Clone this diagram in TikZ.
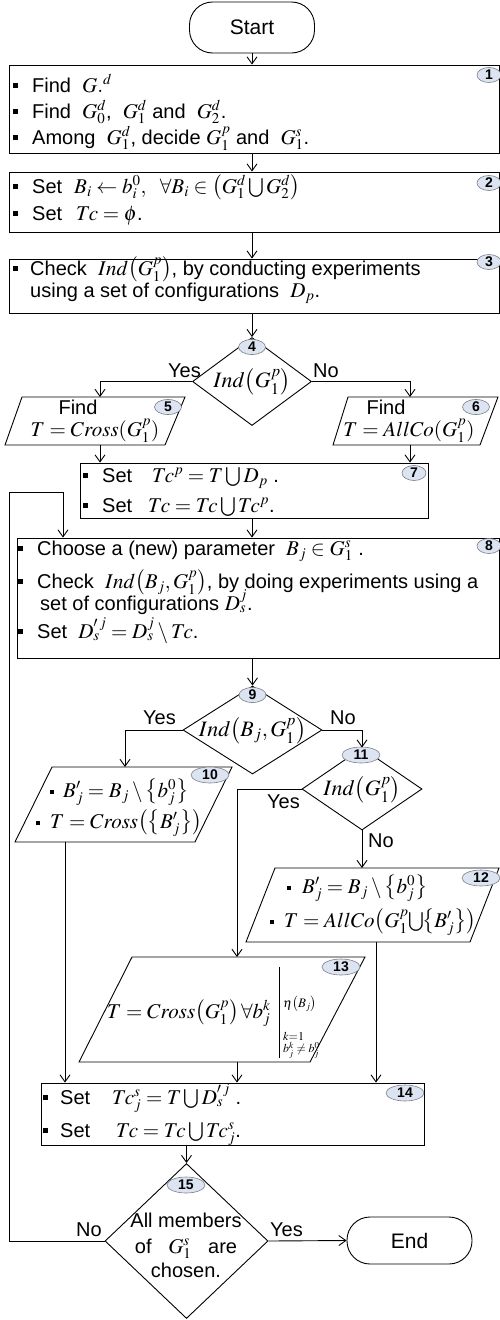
\documentclass[tikz,border=0pt]{standalone}
\usepackage{mathptmx}
\usepackage[no-math]{fontspec}
\setmainfont{Liberation Sans}
\usetikzlibrary{shapes.geometric,arrows.meta}
\DeclareMathSizes{20}{21}{15}{11}
\definecolor{badgefill}{HTML}{DCE4F2}
\definecolor{badgeline}{HTML}{7A7F88}
\newcommand\bsq{\rule[4pt]{5pt}{5pt}}
\newcommand\bsm{\rule[3pt]{4pt}{4pt}}
\newcommand\Tcc{T\mkern-1.5mu c}
\begin{document}
\begin{tikzpicture}[x=1pt,y=-1pt,
  ln/.style={line width=0.9pt},
  arr/.style={line width=0.9pt,-{Straight Barb[length=7pt,width=10pt]}},
  box/.style={draw,line width=0.9pt,rectangle,inner sep=0pt},
  term/.style={draw,line width=0.9pt,rectangle,rounded corners=23pt,inner sep=0pt,font=\fontsize{21}{25}\selectfont},
  dia/.style={draw,diamond,line width=0.9pt,inner sep=0pt},
  txt/.style={anchor=base west,inner sep=0pt,font=\fontsize{20}{24}\selectfont},
  ctxt/.style={anchor=base,inner sep=0pt,font=\fontsize{20}{24}\selectfont},
  dtxt/.style={anchor=center,inner sep=0pt,font=\fontsize{22}{26}\selectfont},
  lab/.style={anchor=base west,inner sep=0pt,font=\fontsize{20}{24}\selectfont},
  badge/.style={ellipse,draw=badgeline,fill=badgefill,line width=0.6pt,inner sep=0pt,minimum width=24pt,minimum height=15pt,font=\bfseries\fontsize{14}{14}\selectfont},
  badgew/.style={badge,minimum width=38pt,minimum height=16pt}
]
\useasboundingbox (0,0) rectangle (500,1320);

% Start
\node[term,minimum width=125pt,minimum height=51pt] (start) at (252,27.5) {Start};

% Box 1
\node[box,minimum width=490pt,minimum height=88pt] (b1) at (254,109) {};
\node[badge] (n1) at (489,75) {1};
\node[txt] (t1a) at (13,92) {\bsq\hspace{14pt}Find \ $G.^{d}$};
\node[txt] (t1b) at (13,118) {\bsq\hspace{14pt}Find \ $G_0^d$, \ $G_1^d$ and \ $G_2^d$.};
\node[txt] (t1c) at (13,144) {\bsq\hspace{14pt}Among \ $G_1^d$, decide $G_1^p$ and \ $G_1^s$.};

% Box 2
\node[box,minimum width=490pt,minimum height=60pt] (b2) at (254,202) {};
\node[badge] (n2) at (489,183) {2};
\node[txt] (t2a) at (13,193) {\bsq\hspace{14pt}Set\hspace{12pt}$B_i \leftarrow b_i^0,\ \ \forall B_i \in \bigl(G_1^d \bigcup G_2^d\bigr)$};
\node[txt] (t2b) at (13,220) {\bsq\hspace{14pt}Set\hspace{14pt}$\Tcc=\phi$.};

% Box 3
\node[box,minimum width=490pt,minimum height=54pt] (b3) at (254,286) {};
\node[badge] (n3) at (489,262) {3};
\node[txt] (t3a) at (13,275) {\bsq\hspace{12pt}Check \ $Ind\bigl(G_1^p\bigr)$, by conducting experiments};
\node[txt] (t3b) at (30,297) {using a set of configurations \ $D_p$.};

% Diamond 4
\node[dia,minimum width=119pt,minimum height=88pt] (d4) at (252,381.5) {};
\node[dtxt] (t4) at (252,382) {$Ind\bigl(G_1^p\bigr)$};
\node[badge,minimum width=27pt] (n4) at (252,347) {4};
\node[lab] (y4) at (168,377) {Yes};
\node[lab] (no4) at (313,377) {No};

% Box 5 (parallelogram)
\draw[ln] (22,397) -- (185,397) -- (165,445) -- (5,445) -- cycle;
\coordinate (p5t) at (100,397);
\coordinate (p5b) at (100,445);
\node[ctxt] (t5a) at (78,414) {Find};
\node[ctxt] (t5b) at (95,436) {$T = Cross(G_1^p)$};
\node[badge,minimum width=27pt] (n5) at (168,407) {5};

% Box 6 (parallelogram)
\draw[ln] (348,397) -- (498,397) -- (480,445) -- (333,445) -- cycle;
\coordinate (p6t) at (410,397);
\coordinate (p6b) at (410,445);
\node[ctxt] (t6a) at (386,414) {Find};
\node[ctxt] (t6b) at (409,436) {$T = AllCo(G_1^p)$};
\node[badge,minimum width=27pt] (n6) at (476,407) {6};

% Box 7
\node[box,minimum width=348pt,minimum height=55pt] (b7) at (254,490.5) {};
\node[badge] (n7) at (414,473) {7};
\node[txt] (t7a) at (83,482) {\bsq\hspace{14pt}Set\hspace{20pt}$\Tcc^p = T \bigcup D_p$ .};
\node[txt] (t7b) at (83,512) {\bsq\hspace{14pt}Set\hspace{16pt}$\Tcc = \Tcc \bigcup \Tcc^p$.};

% Box 8
\node[box,minimum width=482pt,minimum height=120pt] (b8) at (258,598) {};
\node[badge] (n8) at (489,546) {8};
\node[txt] (t8a) at (18,555) {\bsq\hspace{14pt}Choose a (new) parameter \ $B_j \in G_1^s$ .};
\node[txt] (t8b) at (18,588) {\bsq\hspace{14pt}Check \ $Ind\bigl(B_j, G_1^p\bigr)$, by doing experiments using a};
\node[txt] (t8c) at (40,610) {set of configurations $D_s^j$.};
\node[txt] (t8d) at (18,638) {\bsq\hspace{14pt}Set \ $D_s'^{\,j} = D_s^j \setminus \Tcc$.};

% Diamond 9
\node[dia,minimum width=139pt,minimum height=88pt] (d9) at (252.5,730) {};
\node[dtxt] (t9) at (252.5,731) {$Ind\bigl(B_j, G_1^p\bigr)$};
\node[badge,minimum width=27pt] (n9) at (252.5,695) {9};
\node[lab] (y9) at (143,724) {Yes};
\node[lab] (no9) at (330,724) {No};

% Diamond 11
\node[dia,minimum width=120pt,minimum height=82pt] (d11) at (362,789) {};
\node[dtxt] (t11) at (362,790) {$Ind\bigl(G_1^p\bigr)$};
\node[badgew] (n11) at (361,755) {11};
\node[lab] (y11) at (267,808) {Yes};
\node[lab] (no11) at (368,847) {No};

% Box 10 (parallelogram)
\draw[ln] (52,767) -- (232,767) -- (195,842) -- (15,842) -- cycle;
\coordinate (p10t) at (125,767);
\coordinate (p10b) at (65,842);
\node[badgew] (n10) at (210,775) {10};
\node[txt] (t10a) at (50,797) {\bsm\hspace{9pt}$B'_j = B_j \setminus \bigl\{b_j^0\bigr\}$};
\node[txt] (t10b) at (36,828) {\bsm\hspace{10pt}$T = Cross\bigl(\bigl\{B'_j\bigr\}\bigr)$};

% Box 12 (parallelogram)
\draw[ln] (275,868) -- (499,868) -- (470,942) -- (246,942) -- cycle;
\coordinate (p12t) at (362,868);
\coordinate (p12b) at (376,942);
\node[badgew] (n12) at (481,878) {12};
\node[txt] (t12a) at (287,893) {\bsm\hspace{11pt}$B'_j = B_j \setminus \bigl\{b_j^0\bigr\}$};
\node[txt] (t12b) at (270,927) {\bsm\hspace{10pt}$T = AllCo\bigl(G_1^p \mkern-2mu\bigcup\mkern-2mu \bigl\{B'_j\bigr\}\bigr)$};

% Box 13 (parallelogram)
\draw[ln] (132,957) -- (365,957) -- (310,1062) -- (79,1062) -- cycle;
\coordinate (p13t) at (237,957);
\coordinate (p13b) at (237,1062);
\node[badgew] (n13) at (341,967) {13};
\node[txt] (t13) at (107,1018) {$T = Cross\bigl(G_1^p\bigr)\,\forall b_j^k$};
\draw[line width=0.6pt] (279,967) -- (279,1058);
\node[anchor=west,inner sep=0pt,font=\fontsize{13}{15}\selectfont] (t13e) at (283,1004) {$\eta\bigl(B_j\bigr)$};
\node[anchor=west,inner sep=0pt,font=\fontsize{12}{14}\selectfont] (t13k) at (283,1036) {$k{=}1$};
\node[anchor=west,inner sep=0pt,font=\fontsize{12}{14}\selectfont] (t13b) at (283,1050) {$b_j^k \neq b_j^0$};

% Box 14
\node[box,minimum width=383pt,minimum height=62pt] (b14) at (232.5,1114) {};
\node[badgew] (n14) at (405,1093) {14};
\node[txt] (t14a) at (43,1104) {\bsq\hspace{12pt}Set\hspace{22pt}$\Tcc_j^s = T \bigcup D_s'^{\,j}$ .};
\node[txt] (t14b) at (43,1137) {\bsq\hspace{12pt}Set\hspace{26pt}$\Tcc = \Tcc \bigcup \Tcc_j^s$.};

% Diamond 15
\node[dia,minimum width=163pt,minimum height=155pt] (d15) at (186.5,1241) {};
\node[badgew] (n15) at (186,1185) {15};
\node[ctxt] (t15a) at (186,1227) {All members};
\node[ctxt] (t15b) at (186,1253) {of \ \ $G_1^s$ \ \ are};
\node[ctxt] (t15c) at (186,1277) {chosen.};
\node[lab] (no15) at (76,1236) {No};
\node[lab] (y15) at (270,1236) {Yes};

% End
\node[term,minimum width=125pt,minimum height=47pt] (end) at (409.5,1240.5) {End};

% Loop corners
\coordinate (lc) at (9,492);
\coordinate (lt) at (63,492);

% Connectors
\draw[arr] (start.south) -- (start.south |- b1.north);
\draw[arr] (b1.south -| start) -- (b2.north -| start);
\draw[arr] (b2.south -| start) -- (b3.north -| start);
\draw[arr] (b3.south -| d4.north) -- (d4.north);
\draw[arr] (d4.west) -| (p5t);
\draw[arr] (d4.east) -| (p6t);
\draw[arr] (p5b) -- (p5b |- b7.north);
\draw[arr] (p6b) -- (p6b |- b7.north);
\draw[arr] (b7.south -| d4) -- (b8.north -| d4);
\draw[arr] (b8.south -| d9.north) -- (d9.north);
\draw[arr] (d9.west) -| (p10t);
\draw[arr] (d9.east) -| (d11.north);
\draw[arr] (d11.west) -| (p13t);
\draw[arr] (d11.south) -- (p12t);
\draw[arr] (p10b) -- (p10b |- b14.north);
\draw[arr] (p13b) -- (p13b |- b14.north);
\draw[arr] (p12b) -- (p12b |- b14.north);
\draw[arr] (b14.south -| d15.north) -- (d15.north);
\draw[arr] (d15.east) -- (end.west);
\draw[arr] (d15.west) -| (lc) -- (lt) -- (lt |- b8.north);
\end{tikzpicture}
\end{document}
